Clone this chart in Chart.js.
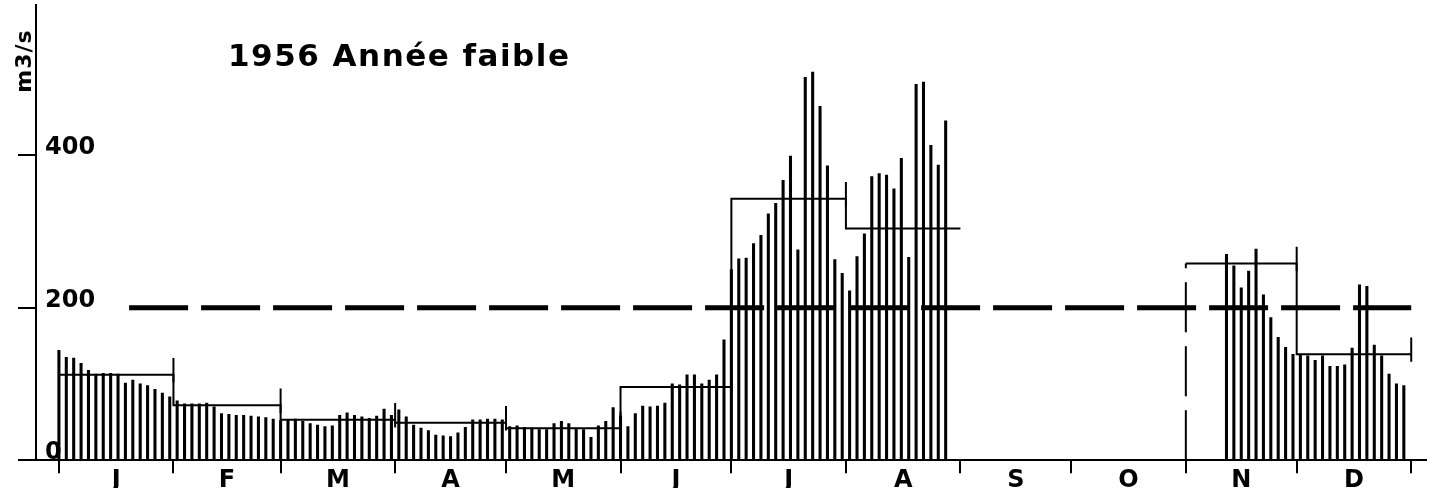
<!DOCTYPE html>
<html lang="fr">
<head>
<meta charset="utf-8">
<title>1956 Année faible</title>
<script src="https://cdn.jsdelivr.net/npm/chart.js@4/dist/chart.umd.min.js"></script>
<style>
  html, body { margin: 0; padding: 0; background: #fff; }
  .wrap { position: relative; width: 1446px; height: 498px; }
</style>
</head>
<body>
<div class="wrap"><canvas id="hydro"></canvas></div>
<script>
// Débits 1956 - un relevé tous les 2 jours (m3/s)
const months = ['J', 'F', 'M', 'A', 'M', 'J', 'J', 'A', 'S', 'O', 'N', 'D'];
const monthStarts = [0, 31, 60, 91, 121, 152, 182, 213, 244, 274, 305, 335, 366];
const monthMeans = [112, 72, 53, 49, 42, 96, 343, 304, null, null, 258, 139];
const sampleStep = 2;
const flows = [
  // janvier
  144, 135, 134, 127, 118, 113, 114, 114, 113, 101, 105, 100, 98, 93, 88,
  // février
  83, 78, 74, 74, 74, 75, 70, 61, 60, 59, 59, 58, 57, 56, 54,
  // mars - avril
  52, 53, 54, 51, 48, 46, 44, 45, 59, 62, 59, 57, 55, 58, 67, 59,
  66, 57, 46, 42, 39, 33, 32, 31, 36, 43, 53, 53, 54, 54, 53,
  // mai - juin
  44, 45, 43, 42, 40, 40, 48, 51, 48, 42, 40, 30, 45,
  51, 69, 58, 44, 61, 71, 70, 71, 75, 100, 99, 112, 112, 100, 105, 112, 158,
  // juillet - août
  250, 264, 265, 284, 295, 323, 337, 367, 399, 276, 502, 509, 464, 386, 263,
  245, 222, 267, 297, 372, 376, 374, 356, 396, 266, 493, 496, 413, 387, 445,
  // lacune septembre - mi-novembre
  null, null, null, null, null, null, null, null, null, null, null, null, null,
  null, null, null, null, null, null, null, null, null, null, null, null, null,
  null, null, null, null, null, null, null, null, null, null, null,
  // novembre - décembre
  270, 255, 226, 248, 277, 217, 187, 161, 148,
  139, 139, 137, 131, 137, 123, 123, 125, 147, 230, 228, 151, 137, 113, 100, 98
];
const yTicks = [0, 200, 400];
const seuil = 200;
const seuilFrom = 19;
const titre = '1956 Année faible';
const unite = 'm3/s';

const font = 'DejaVu Sans';

// barres
const barPts = flows.map((v, i) => ({ x: i * sampleStep, y: v }));

// moyennes mensuelles en escalier
const meanPts = [];
monthMeans.forEach((m, k) => {
  const prev = k > 0 ? monthMeans[k - 1] : m;
  if (m === null) {
    if (prev !== null) meanPts.push({ x: monthStarts[k], y: prev }, { x: monthStarts[k], y: null });
    return;
  }
  if (prev === null) meanPts.push({ x: monthStarts[k], y: 0 });
  meanPts.push({ x: monthStarts[k], y: m });
});
meanPts.push({ x: monthStarts[12], y: monthMeans[11] });

// petits traits verticaux en fin de mois
const bracketPts = [];
monthMeans.forEach((m, k) => {
  if (m === null || monthMeans[k + 1] === null) return;
  const x = monthStarts[k + 1];
  bracketPts.push({ x: x, y: m - 10 }, { x: x, y: m + 22 }, { x: x, y: null });
});

// graduations de l'axe x : limites de mois + milieux (pour les lettres)
const mids = months.map((m, k) => (monthStarts[k] + monthStarts[k + 1]) / 2);
const xTickValues = monthStarts.concat(mids).sort((a, b) => a - b);

const lettering = {
  id: 'lettering',
  afterDraw(chart) {
    const c = chart.ctx;
    c.save();
    c.fillStyle = '#000';
    c.font = 'bold 31px "' + font + '"';
    c.letterSpacing = '1.5px';
    c.textBaseline = 'alphabetic';
    c.fillText(titre, 228, 66);
    c.translate(31, 61);
    c.rotate(-Math.PI / 2);
    c.font = 'bold 22px "' + font + '"';
    c.letterSpacing = '1px';
    c.textAlign = 'center';
    c.fillText(unite, 0, 0);
    c.letterSpacing = '0px';
    c.restore();
  }
};

const ctx = document.getElementById('hydro').getContext('2d');
new Chart(ctx, {
  type: 'bar',
  data: {
    datasets: [
      {
        type: 'line',
        data: [{ x: seuilFrom, y: seuil }, { x: monthStarts[12], y: seuil }],
        borderColor: '#000',
        borderWidth: 5,
        borderDash: [59, 13],
        pointRadius: 0,
        order: 1
      },
      {
        type: 'line',
        data: meanPts,
        stepped: 'before',
        spanGaps: false,
        borderColor: '#000',
        borderWidth: 2,
        pointRadius: 0,
        segment: {
          borderDash: c => (c.p0.parsed.y === 0 ? [50, 14] : undefined)
        },
        order: 2
      },
      {
        type: 'line',
        data: bracketPts,
        spanGaps: false,
        borderColor: '#000',
        borderWidth: 2,
        pointRadius: 0,
        order: 3
      },
      {
        type: 'bar',
        data: barPts,
        backgroundColor: '#000',
        barThickness: 2.4,
        order: 4
      }
    ]
  },
  options: {
    responsive: true,
    maintainAspectRatio: false,
    animation: false,
    layout: { padding: { top: 5, left: 0, right: 20, bottom: 10 } },
    plugins: {
      legend: { display: false },
      tooltip: { enabled: false }
    },
    scales: {
      x: {
        type: 'linear',
        min: -6.2,
        max: 370,
        offset: false,
        afterBuildTicks: s => { s.ticks = xTickValues.map(v => ({ value: v })); },
        ticks: {
          autoSkip: false,
          maxRotation: 0,
          padding: -7,
          color: '#000',
          font: { family: font, size: 24, weight: 'bold' },
          callback: v => {
            const k = mids.indexOf(v);
            return k >= 0 ? months[k] : '';
          }
        },
        grid: {
          offset: false,
          drawOnChartArea: false,
          tickLength: 13,
          lineWidth: 2,
          color: c => (c.tick && monthStarts.includes(c.tick.value) ? '#000' : 'rgba(0,0,0,0)')
        },
        border: { color: '#000', width: 2 }
      },
      y: {
        min: 0,
        max: 597,
        afterBuildTicks: s => { s.ticks = yTicks.map(v => ({ value: v })); },
        afterFit: s => { s.paddingTop = 0; },
        ticks: {
          mirror: true,
          padding: 9,
          labelOffset: -7,
          color: '#000',
          font: { family: font, size: 24, weight: 'bold' }
        },
        grid: {
          drawOnChartArea: false,
          tickLength: 18,
          lineWidth: 2,
          color: '#000'
        },
        border: { color: '#000', width: 2 }
      }
    }
  },
  plugins: [lettering]
});
</script>
</body>
</html>
